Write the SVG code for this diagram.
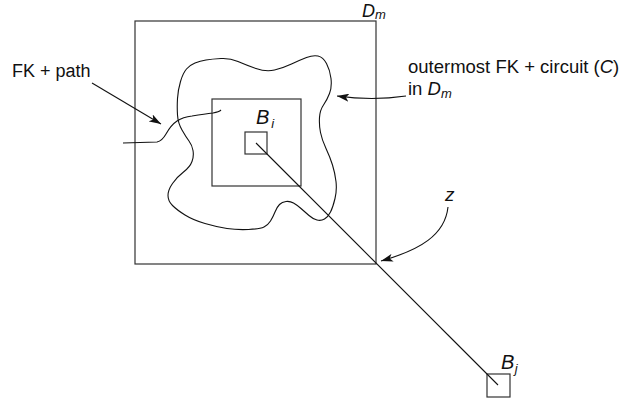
<svg xmlns="http://www.w3.org/2000/svg" width="623" height="404" viewBox="0 0 623 404">
<style>
.box{fill:none;stroke:#333;stroke-width:1.2}
.ln{fill:none;stroke:#111;stroke-width:1.1}
.arr{fill:none;stroke:#111;stroke-width:1.1;marker-end:url(#ah)}
text{font-family:"Liberation Sans",Arial,sans-serif;fill:#111}
.lbl{font-size:18px}
.it{font-style:italic}
.math{font-size:20px;font-style:italic}
.sub{font-size:13px;font-style:italic}
</style>
<defs>
<marker id="ah" viewBox="0 0 12 8" refX="12" refY="4" markerWidth="12" markerHeight="8" markerUnits="userSpaceOnUse" orient="auto">
<path d="M0,0 L12,4 L0,8 L3,4 Z" fill="#111"/>
</marker>
</defs>
<rect width="623" height="404" fill="#fff"/>
<g id="Dm">
<rect class="box" x="135" y="21" width="241" height="243"/>
<text x="362" y="16.5" class="math" style="font-size:18px">D<tspan class="sub" dy="2.5">m</tspan></text>
</g>
<g id="inner-box">
<rect class="box" x="212" y="99" width="89" height="87"/>
</g>
<g id="Bi">
<rect class="box" x="245" y="132" width="22" height="22"/>
<text x="256" y="124" class="math">B<tspan class="sub" dx="2" dy="4">i</tspan></text>
</g>
<g id="Bj">
<rect class="box" x="487" y="374" width="23" height="23"/>
<text x="501" y="369" class="math">B<tspan class="sub" dx="0.5" dy="4">j</tspan></text>
</g>
<g id="circuit-C">
<path class="ln" d="M186.5,69 Q190,65 195,63 Q200,61 206,60 Q212,59 221,58.5 Q230,58 238,61.5 Q246,65 256,68.5 Q266,72 274.5,70 Q283,68 291.5,64 Q300,60 306.5,57.5 Q313,55 318,56 Q323,57 326.5,63.5 Q330,70 331,78.5 Q332,87 329.5,93.5 Q327,100 323.5,105 Q320,110 319.5,117.5 Q319,125 320.5,132.5 Q322,140 326,148.5 Q330,157 332.5,165 Q335,173 336,181.5 Q337,190 335,198.5 Q333,207 330.5,212 Q328,217 324.5,219 Q321,221 317,220 Q313,219 309,215.5 Q305,212 301,208.5 Q297,205 293.5,203 Q290,201 286,201.5 Q282,202 279.5,204.5 Q277,207 275,212 Q273,217 270.5,221 Q268,225 264,227 Q260,229 248.5,229.5 Q237,230 227,228.5 Q217,227 205,223.5 Q193,220 185,215 Q177,210 172.5,205.5 Q168,201 168,195.5 Q168,190 172.5,183.5 Q177,177 183.5,172 Q190,167 192,161.5 Q194,156 193,150.5 Q192,145 189,141 Q186,137 182,130 Q178,123 177.5,115 Q177,107 177.5,98.5 Q178,90 180.5,81.5 Q183,73 186.5,69 Z"/>
</g>
<g id="FK-path">
<path class="ln" d="M123,143 L157,142 Q162,141 166,134 Q171,125 177,121 Q183,117 192,116 Q205,114 213,113 Q219,112 221,110"/>
</g>
<g id="labels">
<text x="12" y="77" class="lbl">FK + path</text>
<text x="408" y="73" class="lbl" style="font-size:18.5px">outermost FK + circuit (<tspan class="it">C</tspan>)</text>
<text x="408" y="95" class="lbl" style="font-size:18.5px">in <tspan class="it">D<tspan class="sub" dy="2.5">m</tspan></tspan></text>
<text x="445" y="201" class="math" style="font-size:19px">z</text>
</g>
<g id="connectors">
<line class="ln" x1="256" y1="143" x2="498" y2="385"/>
<line class="arr" x1="92" y1="83" x2="161" y2="124"/>
<path class="arr" d="M406,96 Q372,101 337,96"/>
<path class="arr" d="M448,207 C445,235 420,250 381,261"/>
</g>
</svg>
